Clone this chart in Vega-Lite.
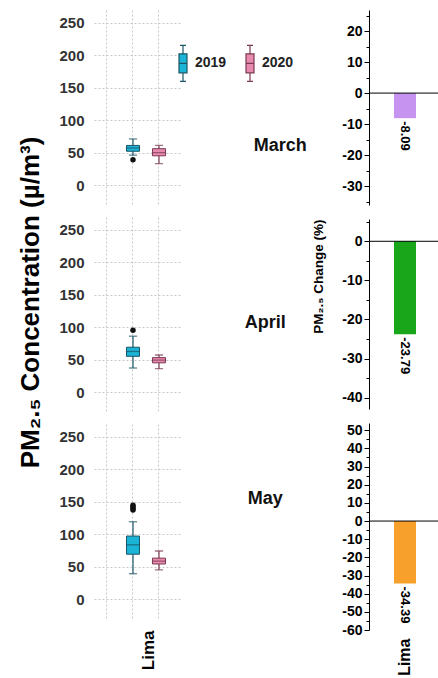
{
  "$schema": "https://vega.github.io/schema/vega-lite/v6.json",
  "padding": {"left": 17, "top": 8, "right": 0, "bottom": 0},
  "autosize": {"type": "pad"},
  "background": "white",
  "config": {
    "font": "Liberation Sans",
    "view": {"stroke": null},
    "title": {"font": "Liberation Sans"},
    "axis": {"labelOverlap": false}
  },
  "datasets": {
    "boxes": [
      {"month": "March", "year": "2019", "min": 46, "q1": 52, "median": 57, "q3": 61, "max": 71},
      {"month": "March", "year": "2020", "min": 33, "q1": 45, "median": 50, "q3": 56, "max": 61},
      {"month": "April", "year": "2019", "min": 37, "q1": 55, "median": 62.5, "q3": 69, "max": 86},
      {"month": "April", "year": "2020", "min": 36, "q1": 45, "median": 49, "q3": 53, "max": 57},
      {"month": "May", "year": "2019", "min": 39, "q1": 69, "median": 83.5, "q3": 97, "max": 119},
      {"month": "May", "year": "2020", "min": 45, "q1": 54, "median": 58.5, "q3": 63, "max": 74}
    ],
    "outliers": [
      {"month": "March", "year": "2019", "value": 39},
      {"month": "April", "year": "2019", "value": 95},
      {"month": "May", "year": "2019", "value": 137},
      {"month": "May", "year": "2019", "value": 139.5},
      {"month": "May", "year": "2019", "value": 142},
      {"month": "May", "year": "2019", "value": 144.5}
    ],
    "change": [
      {"month": "March", "city": "Lima", "change": -8.09},
      {"month": "April", "city": "Lima", "change": -23.79},
      {"month": "May", "city": "Lima", "change": -34.39}
    ]
  },
  "bounds": "flush",
  "spacing": 275,
  "hconcat": [
    {
      "bounds": "flush",
      "spacing": 11,
      "resolve": {"legend": {"fill": "independent", "stroke": "independent"}},
      "vconcat": [
        {
          "width": 86, "height": 196,
          "layer": [
            {"data": {"name": "boxes"}, "transform": [{"filter": "datum.month === 'March'"}],
             "mark": {"type": "rule", "strokeWidth": 1.2},
             "encoding": {
               "x": {"field": "year", "type": "nominal", "scale": {"type": "band", "domain": ["", "2019", "2020"], "paddingInner": 0, "paddingOuter": 0.154, "align": 0}, "axis": {"grid": true, "labels": false, "ticks": false, "domain": false, "title": null, "gridColor": "#c8c8c8", "gridDash": [2, 2]}},
               "y": {"field": "min", "type": "quantitative", "scale": {"domain": [-32.3, 269.6], "nice": false, "zero": false}, "axis": {"values": [0, 50, 100, 150, 200, 250], "tickCount": 100, "grid": true, "gridColor": "#c8c8c8", "gridDash": [2, 2], "domain": false, "ticks": false, "labelFontSize": 15, "labelFontWeight": "bold", "labelColor": "#333", "labelPadding": 10, "title": null}},
               "y2": {"field": "max"},
               "stroke": {"field": "year", "type": "nominal", "scale": {"domain": ["2019", "2020"], "range": ["#1c5566", "#7b3b52"]}, "legend": {"title": null, "orient": "none", "legendX": 78, "legendY": 42, "direction": "horizontal", "symbolType": "M-0.4,-0.95H0.4V0.95H-0.4ZM-0.4,0H0.4M0,-0.95V-1.8M-0.3,-1.8H0.3M0,0.95V1.8M-0.3,1.8H0.3", "symbolSize": 400, "symbolStrokeWidth": 1.2, "labelFontSize": 14, "labelFontWeight": "bold", "labelColor": "#222", "labelOffset": 1, "columnPadding": 12, "padding": 0}}
             }},
            {"data": {"name": "boxes"}, "transform": [{"filter": "datum.month === 'March'"}],
             "mark": {"type": "bar", "size": 13, "strokeWidth": 1},
             "encoding": {
               "x": {"field": "year", "type": "nominal"},
               "y": {"field": "q1", "type": "quantitative"},
               "y2": {"field": "q3"},
               "fill": {"field": "year", "type": "nominal", "scale": {"domain": ["2019", "2020"], "range": ["#1ab4d7", "#e88aae"]}, "legend": {"title": null, "orient": "none", "legendX": 78, "legendY": 42, "direction": "horizontal", "symbolType": "M-0.4,-0.95H0.4V0.95H-0.4ZM-0.4,0H0.4M0,-0.95V-1.8M-0.3,-1.8H0.3M0,0.95V1.8M-0.3,1.8H0.3", "symbolSize": 400, "symbolStrokeWidth": 1.2, "labelFontSize": 14, "labelFontWeight": "bold", "labelColor": "#222", "labelOffset": 1, "columnPadding": 12, "padding": 0}},
               "stroke": {"field": "year", "type": "nominal"}
             }},
            {"data": {"name": "boxes"}, "transform": [{"filter": "datum.month === 'March'"}],
             "mark": {"type": "tick", "size": 13, "thickness": 0.1, "filled": false, "strokeWidth": 1.2},
             "encoding": {"x": {"field": "year", "type": "nominal"}, "y": {"field": "median", "type": "quantitative"}, "stroke": {"field": "year", "type": "nominal"}}},
            {"data": {"name": "boxes"}, "transform": [{"filter": "datum.month === 'March'"}],
             "mark": {"type": "tick", "size": 7, "thickness": 0.1, "filled": false, "strokeWidth": 1.2},
             "encoding": {"x": {"field": "year", "type": "nominal"}, "y": {"field": "min", "type": "quantitative"}, "stroke": {"field": "year", "type": "nominal"}}},
            {"data": {"name": "boxes"}, "transform": [{"filter": "datum.month === 'March'"}],
             "mark": {"type": "tick", "size": 7, "thickness": 0.1, "filled": false, "strokeWidth": 1.2},
             "encoding": {"x": {"field": "year", "type": "nominal"}, "y": {"field": "max", "type": "quantitative"}, "stroke": {"field": "year", "type": "nominal"}}},
            {"data": {"name": "outliers"}, "transform": [{"filter": "datum.month === 'March'"}],
             "mark": {"type": "point", "filled": true, "color": "#111", "size": 30, "opacity": 1},
             "encoding": {"x": {"field": "year", "type": "nominal"}, "y": {"field": "value", "type": "quantitative"}}}
          ]
        },
        {
          "width": 86, "height": 196,
          "layer": [
            {"data": {"name": "boxes"}, "transform": [{"filter": "datum.month === 'April'"}],
             "mark": {"type": "rule", "strokeWidth": 1.2},
             "encoding": {
               "x": {"field": "year", "type": "nominal", "scale": {"type": "band", "domain": ["", "2019", "2020"], "paddingInner": 0, "paddingOuter": 0.154, "align": 0}, "axis": {"grid": true, "labels": false, "ticks": false, "domain": false, "title": null, "gridColor": "#c8c8c8", "gridDash": [2, 2]}},
               "y": {"field": "min", "type": "quantitative", "scale": {"domain": [-32.3, 269.6], "nice": false, "zero": false}, "axis": {"values": [0, 50, 100, 150, 200, 250], "tickCount": 100, "grid": true, "gridColor": "#c8c8c8", "gridDash": [2, 2], "domain": false, "ticks": false, "labelFontSize": 15, "labelFontWeight": "bold", "labelColor": "#333", "labelPadding": 10, "title": "PM₂.₅ Concentration (µ/m³)", "titleFontSize": 26, "titleFontWeight": "bold", "titleColor": "#000", "titlePadding": 15, "titleY": 85}},
               "y2": {"field": "max"},
               "stroke": {"field": "year", "type": "nominal", "scale": {"domain": ["2019", "2020"], "range": ["#1c5566", "#7b3b52"]}, "legend": null}
             }},
            {"data": {"name": "boxes"}, "transform": [{"filter": "datum.month === 'April'"}],
             "mark": {"type": "bar", "size": 13, "strokeWidth": 1},
             "encoding": {
               "x": {"field": "year", "type": "nominal"},
               "y": {"field": "q1", "type": "quantitative"},
               "y2": {"field": "q3"},
               "fill": {"field": "year", "type": "nominal", "scale": {"domain": ["2019", "2020"], "range": ["#1ab4d7", "#e88aae"]}, "legend": null},
               "stroke": {"field": "year", "type": "nominal", "legend": null}
             }},
            {"data": {"name": "boxes"}, "transform": [{"filter": "datum.month === 'April'"}],
             "mark": {"type": "tick", "size": 13, "thickness": 0.1, "filled": false, "strokeWidth": 1.2},
             "encoding": {"x": {"field": "year", "type": "nominal"}, "y": {"field": "median", "type": "quantitative"}, "stroke": {"field": "year", "type": "nominal", "legend": null}}},
            {"data": {"name": "boxes"}, "transform": [{"filter": "datum.month === 'April'"}],
             "mark": {"type": "tick", "size": 7, "thickness": 0.1, "filled": false, "strokeWidth": 1.2},
             "encoding": {"x": {"field": "year", "type": "nominal"}, "y": {"field": "min", "type": "quantitative"}, "stroke": {"field": "year", "type": "nominal", "legend": null}}},
            {"data": {"name": "boxes"}, "transform": [{"filter": "datum.month === 'April'"}],
             "mark": {"type": "tick", "size": 7, "thickness": 0.1, "filled": false, "strokeWidth": 1.2},
             "encoding": {"x": {"field": "year", "type": "nominal"}, "y": {"field": "max", "type": "quantitative"}, "stroke": {"field": "year", "type": "nominal", "legend": null}}},
            {"data": {"name": "outliers"}, "transform": [{"filter": "datum.month === 'April'"}],
             "mark": {"type": "point", "filled": true, "color": "#111", "size": 30, "opacity": 1},
             "encoding": {"x": {"field": "year", "type": "nominal"}, "y": {"field": "value", "type": "quantitative"}}}
          ]
        },
        {
          "width": 86, "height": 196,
          "layer": [
            {"data": {"name": "boxes"}, "transform": [{"filter": "datum.month === 'May'"}],
             "mark": {"type": "rule", "strokeWidth": 1.2},
             "encoding": {
               "x": {"field": "year", "type": "nominal", "scale": {"type": "band", "domain": ["", "2019", "2020"], "paddingInner": 0, "paddingOuter": 0.154, "align": 0}, "axis": {"grid": true, "labels": false, "ticks": false, "domain": false, "title": "Lima", "titleAngle": 270, "titleAlign": "right", "titleBaseline": "middle", "titleX": 54, "titleY": 10, "titleFontSize": 17, "titleFontWeight": "bold", "titleColor": "#000", "gridColor": "#c8c8c8", "gridDash": [2, 2]}},
               "y": {"field": "min", "type": "quantitative", "scale": {"domain": [-32.3, 269.6], "nice": false, "zero": false}, "axis": {"values": [0, 50, 100, 150, 200, 250], "tickCount": 100, "grid": true, "gridColor": "#c8c8c8", "gridDash": [2, 2], "domain": false, "ticks": false, "labelFontSize": 15, "labelFontWeight": "bold", "labelColor": "#333", "labelPadding": 10, "title": null}},
               "y2": {"field": "max"},
               "stroke": {"field": "year", "type": "nominal", "scale": {"domain": ["2019", "2020"], "range": ["#1c5566", "#7b3b52"]}, "legend": null}
             }},
            {"data": {"name": "boxes"}, "transform": [{"filter": "datum.month === 'May'"}],
             "mark": {"type": "bar", "size": 13, "strokeWidth": 1},
             "encoding": {
               "x": {"field": "year", "type": "nominal"},
               "y": {"field": "q1", "type": "quantitative"},
               "y2": {"field": "q3"},
               "fill": {"field": "year", "type": "nominal", "scale": {"domain": ["2019", "2020"], "range": ["#1ab4d7", "#e88aae"]}, "legend": null},
               "stroke": {"field": "year", "type": "nominal", "legend": null}
             }},
            {"data": {"name": "boxes"}, "transform": [{"filter": "datum.month === 'May'"}],
             "mark": {"type": "tick", "size": 13, "thickness": 0.1, "filled": false, "strokeWidth": 1.2},
             "encoding": {"x": {"field": "year", "type": "nominal"}, "y": {"field": "median", "type": "quantitative"}, "stroke": {"field": "year", "type": "nominal", "legend": null}}},
            {"data": {"name": "boxes"}, "transform": [{"filter": "datum.month === 'May'"}],
             "mark": {"type": "tick", "size": 7, "thickness": 0.1, "filled": false, "strokeWidth": 1.2},
             "encoding": {"x": {"field": "year", "type": "nominal"}, "y": {"field": "min", "type": "quantitative"}, "stroke": {"field": "year", "type": "nominal", "legend": null}}},
            {"data": {"name": "boxes"}, "transform": [{"filter": "datum.month === 'May'"}],
             "mark": {"type": "tick", "size": 7, "thickness": 0.1, "filled": false, "strokeWidth": 1.2},
             "encoding": {"x": {"field": "year", "type": "nominal"}, "y": {"field": "max", "type": "quantitative"}, "stroke": {"field": "year", "type": "nominal", "legend": null}}},
            {"data": {"name": "outliers"}, "transform": [{"filter": "datum.month === 'May'"}],
             "mark": {"type": "point", "filled": true, "color": "#111", "size": 30, "opacity": 1},
             "encoding": {"x": {"field": "year", "type": "nominal"}, "y": {"field": "value", "type": "quantitative"}}}
          ]
        }
      ]
    },
    {
      "bounds": "flush",
      "spacing": 14,
      "vconcat": [
        {
          "width": 72, "height": 195,
          "title": {"text": "March", "orient": "left", "angle": 0, "align": "left", "baseline": "middle", "anchor": "middle", "offset": 35, "dy": 38, "fontSize": 18, "fontWeight": "bold", "color": "#111"},
          "data": {"name": "change"},
          "transform": [{"filter": "datum.month === 'March'"}],
          "layer": [
            {"mark": {"type": "bar", "size": 22},
             "encoding": {
               "x": {"field": "city", "type": "nominal", "scale": {"type": "band"}, "axis": null},
               "y": {"field": "change", "type": "quantitative", "scale": {"domain": [-36.1, 26.8], "nice": false, "zero": false}, "axis": {"values": [-35, -30, -25, -20, -15, -10, -5, 0, 5, 10, 15, 20, 25], "tickCount": 100, "labelExpr": "datum.value % 10 === 0 ? toString(datum.value) : ''", "tickSize": {"condition": {"test": "datum.value % 10 === 0", "value": 5}, "value": 3}, "grid": false, "domainColor": "#000", "tickColor": "#000", "labelFontSize": 14, "labelFontWeight": "bold", "labelColor": "#000", "labelPadding": 2, "title": null}},
               "color": {"field": "month", "type": "nominal", "scale": {"domain": ["March", "April", "May"], "range": ["#c793f0", "#1aa61a", "#f7a12c"]}, "legend": null}
             }},
            {"mark": {"type": "rule", "color": "#000", "strokeWidth": 1}, "encoding": {"y": {"datum": 0}}},
            {"mark": {"type": "text", "angle": 90, "align": "left", "baseline": "middle", "dx": 3, "fontSize": 13, "fontWeight": "bold", "color": "#000"},
             "encoding": {"x": {"field": "city", "type": "nominal"}, "y": {"field": "change", "type": "quantitative"}, "text": {"field": "change", "type": "nominal"}}}
          ]
        },
        {
          "width": 72, "height": 190,
          "title": {"text": "April", "orient": "left", "angle": 0, "align": "left", "baseline": "middle", "anchor": "middle", "offset": 26, "dy": 9, "fontSize": 18, "fontWeight": "bold", "color": "#111"},
          "data": {"name": "change"},
          "transform": [{"filter": "datum.month === 'April'"}],
          "layer": [
            {"mark": {"type": "bar", "size": 22},
             "encoding": {
               "x": {"field": "city", "type": "nominal", "scale": {"type": "band"}, "axis": null},
               "y": {"field": "change", "type": "quantitative", "scale": {"domain": [-42.9, 5.7], "nice": false, "zero": false}, "axis": {"values": [-40, -35, -30, -25, -20, -15, -10, -5, 0, 5], "tickCount": 100, "labelExpr": "datum.value % 10 === 0 ? toString(datum.value) : ''", "tickSize": {"condition": {"test": "datum.value % 10 === 0", "value": 5}, "value": 3}, "grid": false, "domainColor": "#000", "tickColor": "#000", "labelFontSize": 14, "labelFontWeight": "bold", "labelColor": "#000", "labelPadding": 2, "title": "PM₂.₅ Change (%)", "titleFontSize": 13.5, "titleFontWeight": "bold", "titleColor": "#000", "titleAnchor": "end", "titlePadding": 16}},
               "color": {"field": "month", "type": "nominal", "scale": {"domain": ["March", "April", "May"], "range": ["#c793f0", "#1aa61a", "#f7a12c"]}, "legend": null}
             }},
            {"mark": {"type": "rule", "color": "#000", "strokeWidth": 1}, "encoding": {"y": {"datum": 0}}},
            {"mark": {"type": "text", "angle": 90, "align": "left", "baseline": "middle", "dx": 3, "fontSize": 13, "fontWeight": "bold", "color": "#000"},
             "encoding": {"x": {"field": "city", "type": "nominal"}, "y": {"field": "change", "type": "quantitative"}, "text": {"field": "change", "type": "nominal"}}}
          ]
        },
        {
          "width": 72, "height": 207,
          "title": {"text": "May", "orient": "left", "angle": 0, "align": "left", "baseline": "middle", "anchor": "middle", "offset": 59, "dy": -28, "fontSize": 18, "fontWeight": "bold", "color": "#111"},
          "data": {"name": "change"},
          "transform": [{"filter": "datum.month === 'May'"}],
          "layer": [
            {"mark": {"type": "bar", "size": 22},
             "encoding": {
               "x": {"field": "city", "type": "nominal", "scale": {"type": "band"}, "axis": {"labelAngle": 270, "labelAlign": "right", "labelBaseline": "middle", "labelFontSize": 16, "labelFontWeight": "bold", "labelColor": "#000", "labelPadding": 8, "domain": false, "ticks": false, "title": null}},
               "y": {"field": "change", "type": "quantitative", "scale": {"domain": [-60, 54], "nice": false, "zero": false}, "axis": {"values": [-60, -55, -50, -45, -40, -35, -30, -25, -20, -15, -10, -5, 0, 5, 10, 15, 20, 25, 30, 35, 40, 45, 50], "tickCount": 100, "labelExpr": "datum.value % 10 === 0 ? toString(datum.value) : ''", "tickSize": {"condition": {"test": "datum.value % 10 === 0", "value": 5}, "value": 3}, "grid": false, "domainColor": "#000", "tickColor": "#000", "labelFontSize": 14, "labelFontWeight": "bold", "labelColor": "#000", "labelPadding": 2, "title": null}},
               "color": {"field": "month", "type": "nominal", "scale": {"domain": ["March", "April", "May"], "range": ["#c793f0", "#1aa61a", "#f7a12c"]}, "legend": null}
             }},
            {"mark": {"type": "rule", "color": "#000", "strokeWidth": 1}, "encoding": {"y": {"datum": 0}}},
            {"mark": {"type": "text", "angle": 90, "align": "left", "baseline": "middle", "dx": 3, "fontSize": 13, "fontWeight": "bold", "color": "#000"},
             "encoding": {"x": {"field": "city", "type": "nominal"}, "y": {"field": "change", "type": "quantitative"}, "text": {"field": "change", "type": "nominal"}}}
          ]
        }
      ]
    }
  ]
}
